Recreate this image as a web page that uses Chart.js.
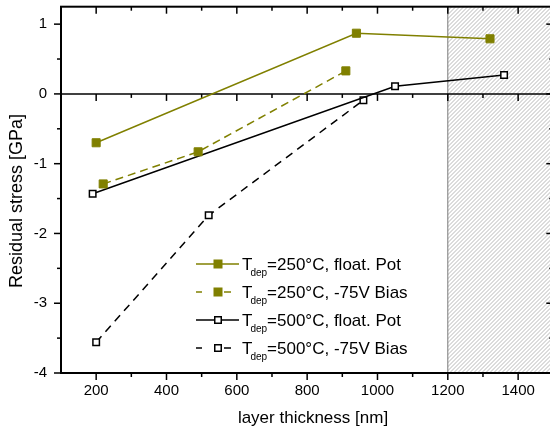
<!DOCTYPE html>
<html>
<head>
<meta charset="utf-8">
<script src="https://cdn.jsdelivr.net/npm/chart.js"></script>
<style>
html, body { margin: 0; padding: 0; overflow: hidden; background: #fff; }
#wrap { width: 560px; height: 432px; }
</style>
</head>
<body>
<div id="wrap"><canvas id="myChart"></canvas></div>
<script>
var olive = "#808000";
var font = "'Liberation Sans', Arial, sans-serif";

// film thickness [nm] and residual stress [GPa] per deposition condition
var thick250float = [200, 940, 1320];
var stress250float = [-0.70, 0.87, 0.79];
var thick250bias = [220, 490, 910];
var stress250bias = [-1.29, -0.83, 0.33];
var thick500float = [190, 1050, 1360];
var stress500float = [-1.43, 0.11, 0.27];
var thick500bias = [200, 520, 960];
var stress500bias = [-3.56, -1.74, -0.09];

var tempLabels = ["=250°C, float. Pot", "=250°C, -75V Bias", "=500°C, float. Pot", "=500°C, -75V Bias"];

var xTicks = [200, 400, 600, 800, 1000, 1200, 1400];
var xMinor = [300, 500, 700, 900, 1100, 1300];
var yTicks = [-4, -3, -2, -1, 0, 1];
var yMinor = [-3.5, -2.5, -1.5, -0.5, 0.5];
var hatchFrom = 1200;

function pts(xs, ys) {
  var out = [];
  for (var i = 0; i < xs.length; i++) out.push({x: xs[i], y: ys[i]});
  return out;
}

function line(ctx, x1, y1, x2, y2) {
  ctx.beginPath(); ctx.moveTo(x1, y1); ctx.lineTo(x2, y2); ctx.stroke();
}

var frame = {
  id: "frame",
  beforeDatasetsDraw: function(chart) {
    var ctx = chart.ctx, a = chart.chartArea;
    var xs = chart.scales.x, ys = chart.scales.y;
    var hx = xs.getPixelForValue(hatchFrom);
    var h = a.bottom - a.top;
    ctx.save();
    ctx.beginPath();
    ctx.rect(hx, a.top, a.right - hx, h);
    ctx.clip();
    ctx.strokeStyle = "#b8b8b8";
    ctx.lineWidth = 1;
    for (var k = hx - h; k < a.right; k += 4) line(ctx, k, a.bottom, k + h, a.top);
    ctx.restore();

    ctx.save();
    ctx.strokeStyle = "#7a7a7a";
    ctx.lineWidth = 1;
    line(ctx, hx, a.top, hx, a.bottom);

    // zero line with its own ticks
    var y0 = ys.getPixelForValue(0);
    ctx.strokeStyle = "#000";
    ctx.lineWidth = 1.5;
    line(ctx, a.left, y0, a.right, y0);
    xTicks.forEach(function(v) { var p = xs.getPixelForValue(v); line(ctx, p, y0, p, y0 + 7); });
    xMinor.forEach(function(v) { var p = xs.getPixelForValue(v); line(ctx, p, y0, p, y0 + 4); });
    ctx.restore();
  },
  afterDraw: function(chart) {
    var ctx = chart.ctx, a = chart.chartArea;
    var xs = chart.scales.x, ys = chart.scales.y;
    ctx.save();
    ctx.strokeStyle = "#000";
    ctx.lineWidth = 2;
    ctx.strokeRect(a.left, a.top, a.right - a.left, a.bottom - a.top);
    ctx.lineWidth = 1.5;
    xTicks.forEach(function(v) {
      var p = xs.getPixelForValue(v);
      line(ctx, p, a.bottom, p, a.bottom + 7);
      line(ctx, p, a.top, p, a.top + 7);
    });
    xMinor.forEach(function(v) {
      var p = xs.getPixelForValue(v);
      line(ctx, p, a.bottom, p, a.bottom + 4);
      line(ctx, p, a.top, p, a.top + 4);
    });
    yTicks.forEach(function(v) {
      var p = ys.getPixelForValue(v);
      line(ctx, a.left - 7, p, a.left, p);
      line(ctx, a.right - 7, p, a.right, p);
    });
    yMinor.forEach(function(v) {
      var p = ys.getPixelForValue(v);
      line(ctx, a.left - 4, p, a.left, p);
      line(ctx, a.right - 4, p, a.right, p);
    });

    // axis titles
    ctx.fillStyle = "#000";
    ctx.textAlign = "center";
    ctx.textBaseline = "middle";
    ctx.font = "17px " + font;
    ctx.fillText("layer thickness [nm]", 313, 418);
    ctx.save();
    ctx.translate(17, 201);
    ctx.rotate(-Math.PI / 2);
    ctx.font = "18px " + font;
    ctx.fillText("Residual stress [GPa]", 0, 0);
    ctx.restore();

    // legend with subscripted T_dep
    chart.data.datasets.forEach(function(ds, i) {
      var y = 264 + i * 28;
      ctx.save();
      ctx.strokeStyle = ds.borderColor;
      ctx.lineWidth = ds.borderWidth;
      if (ds.borderDash.length) {
        line(ctx, 196, y, 202, y);
        line(ctx, 224, y, 231, y);
      } else {
        line(ctx, 196, y, 239, y);
      }
      ctx.restore();
      var s = ds.filled ? 8 : 6.5;
      ctx.fillStyle = ds.pointBackgroundColor;
      ctx.fillRect(218 - s / 2, y - s / 2, s, s);
      ctx.lineWidth = ds.pointBorderWidth;
      ctx.strokeStyle = ds.pointBorderColor;
      ctx.strokeRect(218 - s / 2, y - s / 2, s, s);

      ctx.fillStyle = "#000";
      ctx.textAlign = "left";
      ctx.textBaseline = "alphabetic";
      ctx.font = "17px " + font;
      ctx.fillText("T", 242, y + 6);
      var tx = 242 + ctx.measureText("T").width - 2;
      ctx.font = "10px " + font;
      ctx.fillText("dep", tx, y + 12);
      tx += ctx.measureText("dep").width;
      ctx.font = "17px " + font;
      ctx.fillText(tempLabels[i], tx, y + 6);
    });
    ctx.restore();
  }
};

new Chart("myChart", {
  type: "line",
  data: {
    datasets: [{
      data: pts(thick250float, stress250float),
      filled: true,
      borderColor: olive, borderWidth: 1.5, borderDash: [],
      pointStyle: "rect", pointRadius: 5.7, pointBackgroundColor: olive,
      pointBorderColor: olive, pointBorderWidth: 1
    }, {
      data: pts(thick250bias, stress250bias),
      filled: true,
      borderColor: olive, borderWidth: 1.5, borderDash: [8, 5],
      pointStyle: "rect", pointRadius: 5.7, pointBackgroundColor: olive,
      pointBorderColor: olive, pointBorderWidth: 1
    }, {
      data: pts(thick500float, stress500float),
      filled: false,
      borderColor: "#000", borderWidth: 1.5, borderDash: [],
      pointStyle: "rect", pointRadius: 4.6, pointBackgroundColor: "#fff",
      pointBorderColor: "#000", pointBorderWidth: 1.5
    }, {
      data: pts(thick500bias, stress500bias),
      filled: false,
      borderColor: "#000", borderWidth: 1.5, borderDash: [8, 6],
      pointStyle: "rect", pointRadius: 4.6, pointBackgroundColor: "#fff",
      pointBorderColor: "#000", pointBorderWidth: 1.5
    }]
  },
  options: {
    responsive: true,
    maintainAspectRatio: false,
    animation: false,
    layout: {padding: {top: 6, right: 1, left: 0, bottom: 0}},
    plugins: {legend: {display: false}, tooltip: {enabled: false}},
    scales: {
      x: {
        type: "linear", min: 100, max: 1500,
        afterBuildTicks: function(s) { s.ticks = xTicks.map(function(v) { return {value: v}; }); },
        afterFit: function(s) { s.height = 59; s.paddingLeft = 0; s.paddingRight = 0; },
        grid: {display: false, drawTicks: false},
        border: {display: false},
        ticks: {padding: 9, color: "#000", font: {size: 15, family: font},
          callback: function(v) { return String(v); }}
      },
      y: {
        type: "linear", min: -4, max: 1.25,
        afterBuildTicks: function(s) { s.ticks = yTicks.map(function(v) { return {value: v}; }); },
        afterFit: function(s) { s.width = 61; s.paddingTop = 0; s.paddingBottom = 0; },
        grid: {display: false, drawTicks: false},
        border: {display: false},
        ticks: {padding: 14, color: "#000", font: {size: 15, family: font},
          callback: function(v) { return String(v); }}
      }
    }
  },
  plugins: [frame]
});
</script>
</body>
</html>
